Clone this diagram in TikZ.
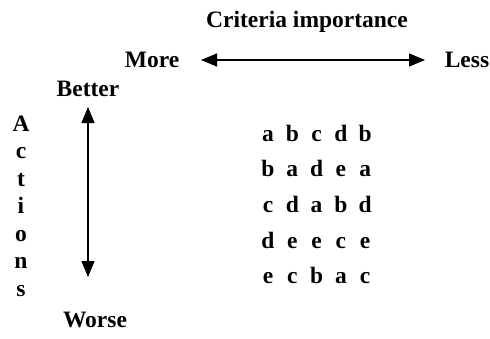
\documentclass[tikz,border=0pt]{standalone}
\usepackage{fontspec}
\setmainfont{Liberation Serif}
\usetikzlibrary{arrows.meta}
\begin{document}
\begin{tikzpicture}[x=1pt,y=-1pt,
  lbl/.style={font=\fontsize{23.5}{26}\selectfont\bfseries, inner sep=0pt, anchor=base},
  dblarrow/.style={line width=1.3pt, {Triangle[length=16pt,width=13pt]}-{Triangle[length=16pt,width=13pt]}}]
\useasboundingbox (0,0) rectangle (490,338);
\node[lbl] (crit) at (307,27) {Criteria importance};
\node[lbl] (more) at (152,67) {More};
\node[lbl] (less) at (467,67) {Less};
\coordinate (hl) at (201,60);
\coordinate (hr) at (425,60);
\draw[dblarrow] (hl) -- (hr);
\node[lbl] (better) at (88,96) {Better};
\node[lbl] (worse) at (95,327) {Worse};
\coordinate (vt) at (88,107);
\coordinate (vb) at (88,277);
\draw[dblarrow] (vt) -- (vb);
\foreach \ch [count=\k from 0] in {A,c,t,i,o,n,s}
  \node[lbl] (act\k) at (21,131+27.5*\k) {\ch};
\foreach \row [count=\r from 0] in {{a,b,c,d,b},{b,a,d,e,a},{c,d,a,b,d},{d,e,e,c,e},{e,c,b,a,c}}
  \foreach \ch [count=\c from 0] in \row
    \node[lbl] (m\r\c) at (268+24.3*\c,141+35.7*\r) {\ch};
\end{tikzpicture}
\end{document}
